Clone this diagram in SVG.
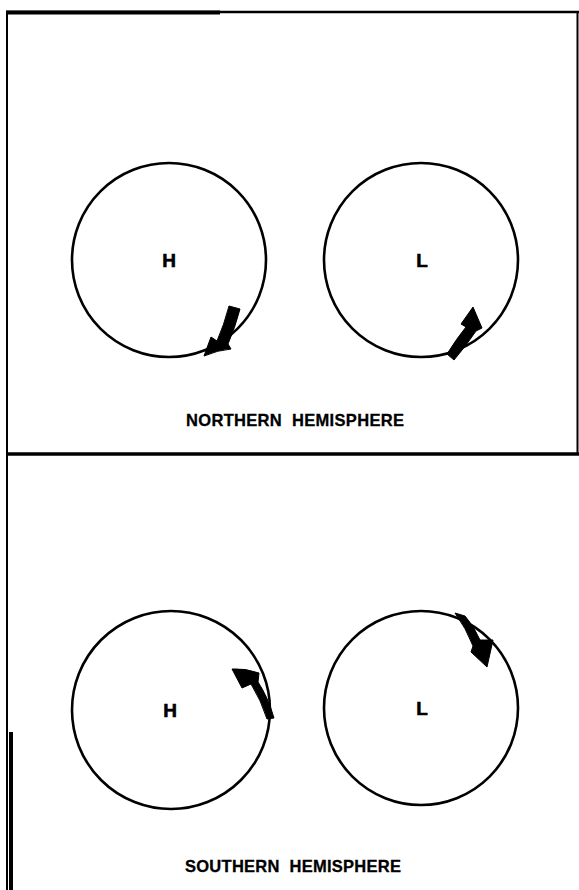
<svg xmlns="http://www.w3.org/2000/svg" width="579" height="890" viewBox="0 0 579 890">
<style>
.ring{fill:none;stroke:#000;stroke-width:2.6}
.arr{fill:#000;stroke:#000;stroke-width:1;stroke-linejoin:round}
.lbl{font-family:"Liberation Sans",Arial,sans-serif;font-weight:bold;font-size:19px;fill:#000;stroke:#000;stroke-width:0.6;text-anchor:middle}
.cap{font-family:"Liberation Sans",Arial,sans-serif;font-weight:bold;font-size:16.5px;fill:#000;stroke:#000;stroke-width:0.3;word-spacing:5px}
.frame{stroke:#000;fill:none}
</style>
<rect width="579" height="890" fill="#fff"/>
<g id="frame">
<line class="frame" x1="6" y1="12" x2="579" y2="12" stroke-width="2.5"/>
<line class="frame" x1="6" y1="12.5" x2="220" y2="12.5" stroke-width="4"/>
<line class="frame" x1="7" y1="11" x2="7" y2="890" stroke-width="2"/>
<line class="frame" x1="11" y1="732" x2="11" y2="890" stroke-width="4"/>
<line class="frame" x1="577.5" y1="11" x2="577.5" y2="454" stroke-width="2"/>
<line class="frame" x1="6" y1="454" x2="579" y2="454" stroke-width="3.5"/>
</g>
<g id="north-high">
<circle class="ring" cx="169" cy="260" r="97"/>
<text class="lbl" x="169" y="267">H</text>
<path class="arr" d="M229,306 L240,309 Q235,328 228,344 L231,349 Q218,350 204,356 L211,337 L217,341 Q224,325 229,306 Z"/>
</g>
<g id="north-low">
<circle class="ring" cx="421" cy="260" r="97"/>
<text class="lbl" x="422" y="267">L</text>
<path class="arr" d="M447,354 Q457,338 466,327 L461,324 L473,307 L482,328 L476,331 Q466,346 454,360 Z"/>
</g>
<g id="south-high">
<circle class="ring" cx="171" cy="710" r="99"/>
<text class="lbl" x="170" y="717">H</text>
<path class="arr" d="M267,719 L274,718 Q268,697 258,682 L259,673 Q245,668 232,669 L242,688 L251,684 Q261,700 267,719 Z"/>
</g>
<g id="south-low">
<circle class="ring" cx="421" cy="708" r="97"/>
<text class="lbl" x="422" y="715">L</text>
<path class="arr" d="M455,613 L465,616 Q474,626 480,640 L493,640 L487,667 L471,652 L473,646 Q466,628 455,613 Z"/>
</g>
<g id="captions">
<text class="cap" x="186" y="426" textLength="218">NORTHERN HEMISPHERE</text>
<text class="cap" x="185" y="872" textLength="216">SOUTHERN HEMISPHERE</text>
</g>
<g id="connectors"/>
</svg>
